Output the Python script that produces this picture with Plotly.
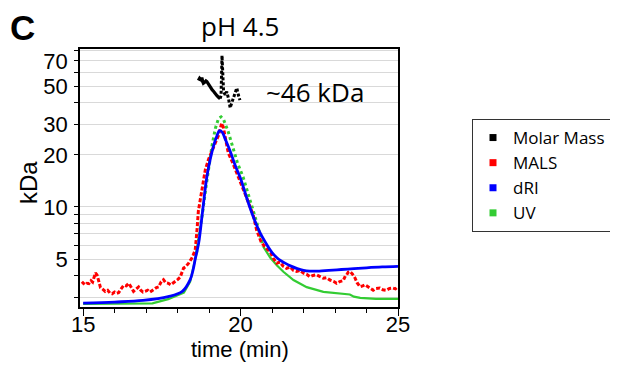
import plotly.graph_objects as go

# ---------------- data ----------------
dri_t = [15.0, 16.0, 16.9, 17.7, 18.15, 18.4, 18.5, 18.56, 18.67, 18.78, 18.93, 19.04, 19.14, 19.25,
         19.33, 19.42, 19.52, 19.67, 19.85, 20.0, 20.2, 20.4, 20.6, 20.8, 21.0, 21.2, 21.4, 21.6,
         21.8, 22.0, 22.2, 22.5, 22.8, 23.2, 23.6, 24.0, 24.5, 25.0]
dri_v = [2.78, 2.82, 2.88, 3.03, 3.25, 3.8, 4.4, 5.0, 6.2, 9.0, 15.0, 19.0, 22.5, 25.8,
         27.6, 27.0, 24.5, 21.0, 17.0, 14.6, 11.2, 8.8, 7.2, 6.2, 5.45, 5.0, 4.75, 4.55,
         4.4, 4.3, 4.26, 4.26, 4.3, 4.35, 4.4, 4.45, 4.5, 4.53]

uv_t = [15.0, 16.0, 17.2, 17.7, 18.2, 18.4, 18.5, 18.6, 18.7, 18.8, 18.9, 19.0, 19.1, 19.2,
        19.3, 19.38, 19.46, 19.6, 19.75, 19.9, 20.08, 20.3, 20.5, 20.72, 20.94, 21.15, 21.36,
        21.68, 22.1, 22.63, 23.05, 23.47, 23.6, 23.8, 24.3, 25.0]
uv_v = [2.75, 2.76, 2.77, 2.93, 3.2, 3.7, 4.4, 5.4, 7.0, 9.5, 13.0, 17.5, 23.0, 28.5,
        32.5, 33.2, 32.0, 27.5, 22.0, 18.0, 14.9, 11.0, 8.3, 5.9, 5.1, 4.6, 4.22,
        3.78, 3.44, 3.23, 3.17, 3.12, 3.03, 2.98, 2.94, 2.94]

mals_t = [14.96, 15.05, 15.12, 15.18, 15.25, 15.3, 15.39, 15.44, 15.5, 15.55, 15.62, 15.7, 15.78,
          15.85, 15.92, 16.0, 16.07, 16.13, 16.2, 16.29, 16.37, 16.45, 16.52, 16.6, 16.68, 16.76,
          16.83, 16.9, 16.97, 17.05, 17.12, 17.19, 17.26, 17.33, 17.4, 17.48, 17.55, 17.62, 17.71,
          17.78, 17.85, 17.92, 18.0, 18.08, 18.15, 18.19, 18.25, 18.3, 18.35, 18.4, 18.45, 18.5,
          18.56, 18.62, 18.66, 18.72, 18.77, 18.83, 18.88, 18.98, 19.09, 19.2, 19.3, 19.36, 19.4,
          19.45, 19.52, 19.61, 19.75, 19.98, 20.2, 20.4, 20.51, 20.65, 20.8, 20.94, 21.04, 21.15,
          21.25, 21.35, 21.46, 21.57, 21.68, 21.78, 21.88, 21.99, 22.1, 22.2, 22.3, 22.41, 22.52,
          22.63, 22.73, 22.84, 22.95, 23.05, 23.15, 23.26, 23.33, 23.37, 23.42, 23.47, 23.55,
          23.63, 23.7, 23.79, 23.88, 23.95, 24.0, 24.1, 24.21, 24.3, 24.42, 24.52, 24.63, 24.73,
          24.84, 24.92, 25.0]
mals_v = [3.7, 3.55, 3.62, 3.6, 3.75, 3.68, 4.15, 4.05, 3.7, 3.42, 3.35, 3.25, 3.3,
          3.18, 3.15, 3.22, 3.17, 3.2, 3.35, 3.52, 3.5, 3.62, 3.45, 3.25, 3.35, 3.45,
          3.3, 3.22, 3.25, 3.3, 3.22, 3.3, 3.35, 3.42, 3.45, 3.7, 3.8, 3.65, 3.62,
          3.55, 3.62, 3.7, 3.8, 3.92, 4.2, 4.43, 4.5, 4.6, 4.73, 4.9, 5.05, 5.3,
          5.64, 7.5, 9.5, 11.0, 12.5, 14.5, 16.4, 18.8, 21.3, 23.5, 26.0, 28.5, 30.5,
          29.0, 24.5, 20.5, 18.0, 14.3, 11.2, 9.0, 7.36, 6.3, 5.8, 5.5, 5.05, 4.73,
          4.8, 4.55, 4.42, 4.5, 4.3, 4.24, 4.3, 4.15, 4.08, 3.95, 4.02, 4.05, 3.95,
          3.87, 3.9, 3.78, 3.72, 3.62, 3.7, 3.75, 4.0, 4.05, 4.2, 4.24, 4.1,
          3.9, 3.65, 3.46, 3.5, 3.55, 3.5, 3.4, 3.3, 3.38, 3.4, 3.32, 3.3, 3.38,
          3.4, 3.36, 3.46]

mm_t = [18.66, 18.7, 18.74, 18.77, 18.8, 18.82, 18.86, 18.9, 18.93, 18.97, 19.0, 19.03, 19.07,
        19.1, 19.14, 19.18, 19.22, 19.25, 19.3, 19.35,
        19.38, 19.41, 19.42, 19.43, 19.44, 19.46, 19.51, 19.56, 19.61, 19.64, 19.67, 19.72,
        19.77, 19.82, 19.88, 19.93, 19.98]
mm_v = [53.8, 55.5, 54.5, 55.9, 53.0, 51.9, 52.5, 53.5, 53.0, 51.5, 50.5, 49.9, 48.5,
        47.5, 46.7, 45.5, 44.5, 44.0, 43.0, 42.3,
        44.0, 75.0, 65.0, 55.0, 47.0, 46.7, 44.4, 46.5, 42.8, 39.5, 37.4, 40.0,
        42.3, 46.0, 48.7, 44.4, 41.5]

series_names = ["Molar Mass", "MALS", "dRI", "UV"]
series_colors = ["#000000", "#ff0000", "#0000ff", "#33cc33"]

y_grid_vals = [3, 4, 5, 6, 7, 8, 9, 10, 20, 30, 40, 50, 60, 70, 80]
y_grid_text = ["", "", "5", "", "", "", "", "10", "20", "30", "", "50", "", "70", ""]
x_tick_vals = [15, 20, 25]

# ---------------- geometry (page pixels; page body has an 8px margin) ----------------
OFF = 8
W, H = 618 - OFF, 372 - OFF
L, R, T, B = 80 - OFF, 398 - OFF, 49 - OFF, 307 - OFF   # plot area in figure pixels


def px(xp):  # page pixel -> paper x
    return (xp - OFF - L) / (R - L)


def py(yp):  # page pixel -> paper y
    return (B - (yp - OFF)) / (B - T)


fig = go.Figure()

UV_SPLIT_A, UV_SPLIT_B = 7, 23   # dotted (sparse) part of UV around the peak
MM_SPLIT = 19

fig.add_trace(go.Scatter(x=uv_t[:UV_SPLIT_A + 1], y=uv_v[:UV_SPLIT_A + 1], mode="lines",
                         line=dict(color=series_colors[3], width=2.2), showlegend=False))
fig.add_trace(go.Scatter(x=uv_t[UV_SPLIT_A:UV_SPLIT_B + 1], y=uv_v[UV_SPLIT_A:UV_SPLIT_B + 1],
                         mode="lines", line=dict(color=series_colors[3], width=3, dash="3px,3px"),
                         showlegend=False))
fig.add_trace(go.Scatter(x=uv_t[UV_SPLIT_B:], y=uv_v[UV_SPLIT_B:], mode="lines",
                         line=dict(color=series_colors[3], width=2.2), showlegend=False))
fig.add_trace(go.Scatter(x=mals_t, y=mals_v, mode="lines",
                         line=dict(color=series_colors[1], width=3, dash="4px,2px"),
                         showlegend=False))
fig.add_trace(go.Scatter(x=dri_t, y=dri_v, mode="lines", line_shape="spline",
                         line=dict(color=series_colors[2], width=2.8), showlegend=False))
fig.add_trace(go.Scatter(x=mm_t[:MM_SPLIT + 1], y=mm_v[:MM_SPLIT + 1], mode="lines",
                         line=dict(color=series_colors[0], width=3.2), showlegend=False))
fig.add_trace(go.Scatter(x=mm_t[MM_SPLIT:], y=mm_v[MM_SPLIT:], mode="lines",
                         line=dict(color=series_colors[0], width=3, dash="3px,2px"),
                         showlegend=False))

# legend entries (square markers)
for name, col in zip(series_names, series_colors):
    fig.add_trace(go.Scatter(x=[None], y=[None], mode="markers", name=name,
                             marker=dict(symbol="square", size=7, color=col)))


def label(text, xp, yp, size, family="Liberation Sans, Arial", angle=0):
    return dict(text=text, x=px(xp), y=py(yp), xref="paper", yref="paper",
                xanchor="center", yanchor="middle", textangle=angle,
                showarrow=False, font=dict(size=size, family=family))


fig.update_layout(
    width=W, height=H,
    margin=dict(l=L, r=W - R, t=T, b=H - B, autoexpand=False),
    paper_bgcolor="white", plot_bgcolor="white",
    font=dict(family="Liberation Sans, Arial, sans-serif", color="#000000"),
    showlegend=True,
    legend=dict(xref="container", yref="container",
                x=(472 - OFF) / W, y=1 - (119 - OFF) / H,
                xanchor="left", yanchor="top",
                bordercolor="#333333", borderwidth=1, bgcolor="white",
                font=dict(family="Open Sans, Noto Sans, sans-serif", size=17, color="#000"),
                tracegroupgap=0, itemwidth=30),
    xaxis=dict(range=[14.9, 25.0], tickvals=x_tick_vals, ticks="outside", ticklen=7,
               tickwidth=1.2, tickcolor="#000", automargin=False, ticklabelstandoff=-10,
               minor=dict(dtick=1, tick0=15, ticks="outside", ticklen=4, tickcolor="#000"),
               showgrid=False, zeroline=False,
               showline=True, linecolor="#000", linewidth=1.5, mirror=True,
               tickfont=dict(size=22)),
    yaxis=dict(type="log", range=[0.4216, 1.9133], automargin=False,
               tickvals=y_grid_vals, ticktext=y_grid_text, ticklabelstandoff=2,
               ticks="outside", ticklen=4, tickcolor="#000",
               showgrid=True, gridcolor="#d9d9d9", gridwidth=1, zeroline=False,
               showline=True, linecolor="#000", linewidth=1.5, mirror=True,
               tickfont=dict(size=22)),
    annotations=[
        label("<b>C</b>", 22.5, 27.5, 35),
        label("pH 4.5", 240, 26, 26, "Open Sans, Noto Sans"),
        label("~46 kDa", 315, 92, 26, "Open Sans, Noto Sans"),
        label("time (min)", 240, 349, 22),
        label("kDa", 28, 183, 24, angle=-90),
    ],
)

fig.write_html("out.html")
